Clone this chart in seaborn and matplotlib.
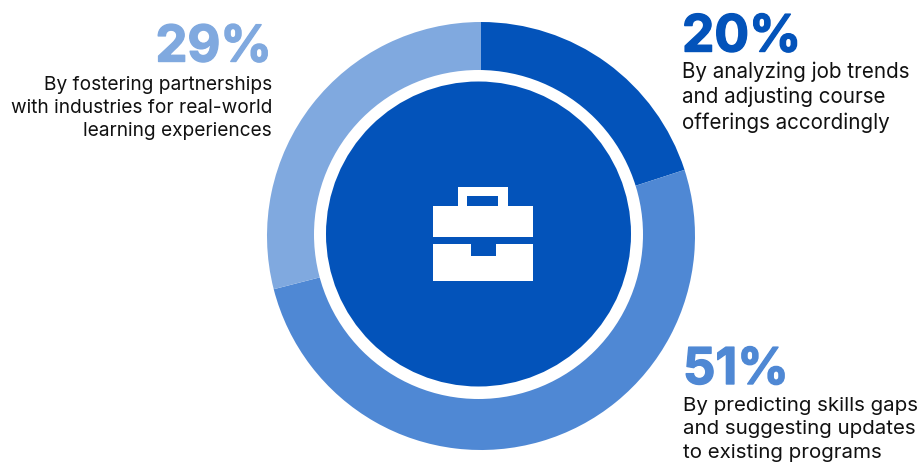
import matplotlib
matplotlib.use("Agg")
import matplotlib.pyplot as plt
import matplotlib.patheffects as pe
import seaborn as sns
from matplotlib.patches import Circle, Polygon

shares = [20, 51, 29]
share_labels = ["20%", "51%", "29%"]
descriptions = [
    "By analyzing job trends\nand adjusting course\nofferings accordingly",
    "By predicting skills gaps\nand suggesting updates\nto existing programs",
    "By fostering partnerships\nwith industries for real-world\nlearning experiences",
]
colors = ["#0353BA", "#4F88D4", "#80A9DF"]

W, H = 921, 464
CX, CY = 481, 237


def flip(points):
    # icon points are measured from the top of the picture
    return [(x, H - y) for x, y in points]


sns.set_theme(style="white")
plt.rcParams["font.family"] = ["Inter", "DejaVu Sans"]

fig = plt.figure(figsize=(W / 100, H / 100), dpi=100)
ax = fig.add_axes([0, 0, 1, 1])

ax.pie(shares, colors=colors, startangle=90, counterclock=False,
       radius=214, center=(CX, H - CY), frame=True,
       wedgeprops=dict(linewidth=0))
# the hole and the disc sit a little left of the ring centre
ax.add_patch(Circle((478.5, H - 235.5), 164.5, color="white", linewidth=0))
ax.add_patch(Circle((478.5, H - 235), 152.5, color=colors[0], linewidth=0))

# briefcase icon
handle = [(458, 207), (458, 188), (508, 188), (508, 207), (498, 207),
          (498, 197), (467, 197), (467, 207)]
upper = [(433, 207), (533, 207), (533, 238), (433, 238)]
lower = [(433, 244.5), (470.5, 244.5), (470.5, 257), (495.5, 257),
         (495.5, 244.5), (533, 244.5), (533, 281.5), (433, 281.5)]
for shape in [handle, upper, lower]:
    ax.add_patch(Polygon(flip(shape), closed=True, color="white", linewidth=0))

# x, number baseline, number size, text top, text size, line spacing, alignment
spots = [(682, 52.5, 37, 61, 14.85, 1.31, "left"),
         (683, 385, 36.5, 397, 14.75, 1.39, "left"),
         (272, 62.5, 36.5, 76, 13.75, 1.35, "right")]
for i, (x, y_num, num_size, y_text, text_size, spacing, ha) in enumerate(spots):
    ax.text(x, H - y_num, share_labels[i], color=colors[i], fontsize=num_size,
            fontweight="bold", ha=ha, va="baseline",
            path_effects=[pe.withStroke(linewidth=1.0, foreground=colors[i])])
    ax.text(x, H - y_text, descriptions[i], color="#111111", fontsize=text_size,
            ha=ha, va="top", linespacing=spacing, multialignment=ha)

ax.set_xlim(0, W)
ax.set_ylim(0, H)
ax.axis("off")
fig.savefig("out.png", dpi=100, facecolor="white")
